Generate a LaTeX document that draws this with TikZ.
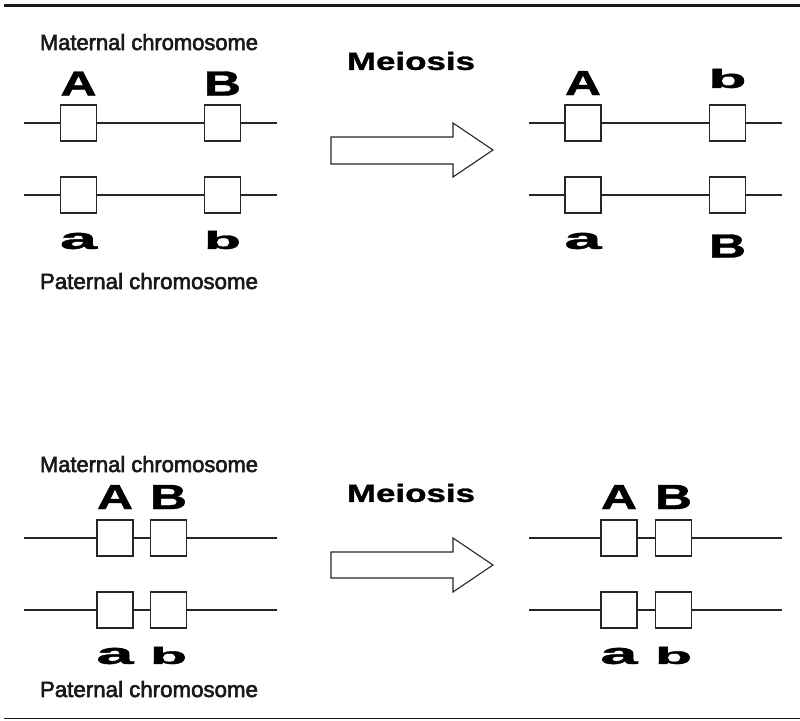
\documentclass[tikz,border=0pt]{standalone}
\usepackage{fontspec}
\setmainfont{Liberation Sans}
\newfontfamily\medfont[FakeBold=2.6]{Liberation Sans}
\newfontfamily\heavyfont[FakeBold=1.2]{Liberation Sans Bold}
\usepackage{graphicx}

% wide, heavy allele letters
\newcommand\allele[3]{\resizebox{#1}{#2}{\heavyfont #3}}
% chromosome captions, slightly condensed
\newcommand\chromcap[1]{\resizebox{218pt}{16pt}{\medfont #1}}

\tikzset{
  genebox/.style={draw=black!85, line width=1.2pt, fill=white,
    minimum size=36pt, inner sep=0pt},
  chromline/.style={line width=1.2pt, draw=black!85},
  chromlabel/.style={anchor=base, inner sep=0pt, text=black!90},
  letter/.style={inner sep=0pt},
  bigarrow/.style={draw=black!85, line width=1.1pt, fill=white, line join=miter},
}

\begin{document}
\begin{tikzpicture}[x=1pt, y=-1pt]
\useasboundingbox (0,0) rectangle (800,720);

% rules
\draw[line width=3pt, black!90] (4,5) -- (800,5);
\draw[line width=1.5pt, black!90] (4,718.5) -- (800,718.5);

% ---------- upper panel: genes far apart ----------
\node[chromlabel] (mat1) at (149,50) {\chromcap{Maternal chromosome}};
\node[chromlabel] (pat1) at (149,289) {\chromcap{Paternal chromosome}};

% left pair
\coordinate (u1s) at (24,123);  \coordinate (u1e) at (277,123);
\coordinate (u2s) at (24,195);  \coordinate (u2e) at (277,195);
\node[genebox] (uA) at (78.5,123) {};
\node[genebox] (uB) at (222.5,123) {};
\node[genebox] (ua) at (78.5,195) {};
\node[genebox] (ub) at (222.5,195) {};
\draw[chromline] (u1s) -- (uA.west) (uA.east) -- (uB.west) (uB.east) -- (u1e);
\draw[chromline] (u2s) -- (ua.west) (ua.east) -- (ub.west) (ub.east) -- (u2e);
\node[letter] (luA) at (78.5,83.5) {\allele{36pt}{24pt}{A}};
\node[letter] (luB) at (222.5,83.5) {\allele{37pt}{24pt}{B}};
\node[letter] (lua) at (78.5,241) {\allele{37pt}{16pt}{a}};
\node[letter] (lub) at (222.5,240) {\allele{37pt}{18pt}{b}};

% meiosis arrow
\node[letter] (mei1) at (411,61) {\allele{128pt}{18pt}{Meiosis}};
\draw[bigarrow] (331,137) -- (453,137) -- (453,123) -- (493,150)
  -- (453,177) -- (453,164) -- (331,164) -- cycle;

% right pair (after crossing over)
\coordinate (v1s) at (529,123);  \coordinate (v1e) at (782,123);
\coordinate (v2s) at (529,195);  \coordinate (v2e) at (782,195);
\node[genebox] (vA) at (583,123) {};
\node[genebox] (vb) at (727.5,123) {};
\node[genebox] (va) at (583,195) {};
\node[genebox] (vB) at (727.5,195) {};
\draw[chromline] (v1s) -- (vA.west) (vA.east) -- (vb.west) (vb.east) -- (v1e);
\draw[chromline] (v2s) -- (va.west) (va.east) -- (vB.west) (vB.east) -- (v2e);
\node[letter] (lvA) at (583,83) {\allele{36pt}{24pt}{A}};
\node[letter] (lvb) at (727.5,78.5) {\allele{38pt}{19pt}{b}};
\node[letter] (lva) at (583,241) {\allele{37pt}{16pt}{a}};
\node[letter] (lvB) at (727.5,246) {\allele{37pt}{23pt}{B}};

% ---------- lower panel: genes close together ----------
\node[chromlabel] (mat2) at (149,472) {\chromcap{Maternal chromosome}};
\node[chromlabel] (pat2) at (149,697) {\chromcap{Paternal chromosome}};

\coordinate (w1s) at (24,538);  \coordinate (w1e) at (277,538);
\coordinate (w2s) at (24,610);  \coordinate (w2e) at (277,610);
\node[genebox] (wA) at (115,538) {};
\node[genebox] (wB) at (168.5,538) {};
\node[genebox] (wa) at (115,610) {};
\node[genebox] (wb) at (168.5,610) {};
\draw[chromline] (w1s) -- (wA.west) (wA.east) -- (wB.west) (wB.east) -- (w1e);
\draw[chromline] (w2s) -- (wa.west) (wa.east) -- (wb.west) (wb.east) -- (w2e);
\node[letter] (lwA) at (115,497) {\allele{36pt}{24pt}{A}};
\node[letter] (lwB) at (168.5,497) {\allele{37pt}{24pt}{B}};
\node[letter] (lwa) at (115,656) {\allele{37pt}{16pt}{a}};
\node[letter] (lwb) at (168.5,655.5) {\allele{37pt}{17pt}{b}};

\node[letter] (mei2) at (411,493) {\allele{128pt}{18pt}{Meiosis}};
\draw[bigarrow] (331,552) -- (453,552) -- (453,538) -- (493,565)
  -- (453,592) -- (453,578) -- (331,578) -- cycle;

\coordinate (x1s) at (529,538);  \coordinate (x1e) at (782,538);
\coordinate (x2s) at (529,610);  \coordinate (x2e) at (782,610);
\node[genebox] (xA) at (619,538) {};
\node[genebox] (xB) at (673.5,538) {};
\node[genebox] (xa) at (619,610) {};
\node[genebox] (xb) at (673.5,610) {};
\draw[chromline] (x1s) -- (xA.west) (xA.east) -- (xB.west) (xB.east) -- (x1e);
\draw[chromline] (x2s) -- (xa.west) (xa.east) -- (xb.west) (xb.east) -- (x2e);
\node[letter] (lxA) at (619,497) {\allele{36pt}{24pt}{A}};
\node[letter] (lxB) at (673.5,497) {\allele{37pt}{24pt}{B}};
\node[letter] (lxa) at (619,656) {\allele{37pt}{16pt}{a}};
\node[letter] (lxb) at (673.5,655.5) {\allele{37pt}{17pt}{b}};
\end{tikzpicture}
\end{document}
